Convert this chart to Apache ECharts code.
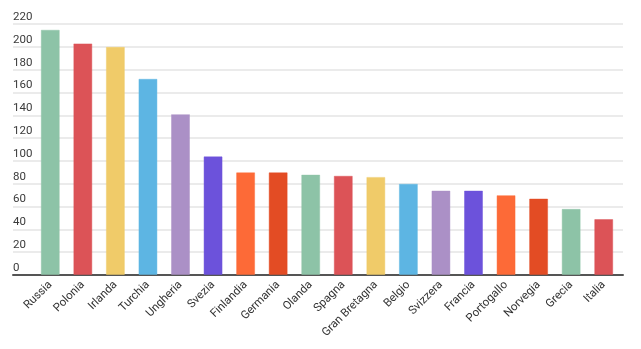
<!DOCTYPE html>
<html>
<head>
<meta charset="utf-8">
<script src="https://cdn.jsdelivr.net/npm/echarts@6/dist/echarts.min.js"></script>
<style>
  html, body { margin: 0; padding: 0; background: #fff; }
  #chart { width: 641px; height: 349px; }
</style>
</head>
<body>
<div id="chart"></div>
<script>
// Countries and their values
const countries = ['Russia', 'Polonia', 'Irlanda', 'Turchia', 'Ungheria', 'Svezia', 'Finlandia',
  'Germania', 'Olanda', 'Spagna', 'Gran Bretagna', 'Belgio', 'Svizzera', 'Francia',
  'Portogallo', 'Norvegia', 'Grecia', 'Italia'];
const values = [215, 203, 200, 172, 141, 104, 90, 90, 88, 87, 86, 80, 74, 74, 70, 67, 58, 49];

// Bar colour cycle
const palette = ['#8dc3a7', '#dc5357', '#f0cb69', '#5db5e3', '#ab90c6', '#6c52db', '#fd6a37', '#e34c24'];

// Y axis range and step
const yMin = 0;
const yMax = 220;
const yStep = 20;

const chart = echarts.init(document.getElementById('chart'), null, { renderer: 'canvas' });

const fontFamily = 'Roboto, "Noto Sans", Arial, sans-serif';

chart.setOption({
  animation: false,
  backgroundColor: '#ffffff',
  grid: [
    // full-width grid carrying the gridlines, value labels and baseline
    { left: 13, right: 18, top: 24, bottom: 74 },
    // narrower grid where the bars sit
    { left: 34, right: 21, top: 24, bottom: 74 }
  ],
  xAxis: [
    {
      gridIndex: 0, type: 'value', min: 0, max: 1,
      axisLine: { show: true, onZero: false, lineStyle: { color: '#555555', width: 2 } },
      axisTick: { show: false }, axisLabel: { show: false }, splitLine: { show: false }
    },
    {
      gridIndex: 1, type: 'category', data: countries,
      axisLine: { show: false }, axisTick: { show: false },
      axisLabel: {
        interval: 0, rotate: 45, margin: 8,
        color: '#333333', fontSize: 11.5, fontFamily: fontFamily
      }
    }
  ],
  yAxis: [
    {
      gridIndex: 0, type: 'value', min: yMin, max: yMax, interval: yStep,
      axisLine: { show: false }, axisTick: { show: false },
      axisLabel: {
        inside: true, margin: 0, align: 'left', verticalAlign: 'bottom',
        padding: [0, 0, 1, 0],
        color: '#3a3a3a', fontSize: 11.5, fontFamily: fontFamily
      },
      splitLine: { lineStyle: { color: '#e4e4e4', width: 1.5 } }
    },
    {
      gridIndex: 1, type: 'value', min: yMin, max: yMax, interval: yStep,
      axisLine: { show: false }, axisTick: { show: false },
      axisLabel: { show: false }, splitLine: { show: false }
    }
  ],
  series: [{
    type: 'bar',
    xAxisIndex: 1,
    yAxisIndex: 1,
    barWidth: 19,
    z: 3,
    data: values.map((v, i) => ({
      value: v,
      itemStyle: {
        color: palette[i % palette.length],
        borderColor: echarts.color.modifyAlpha(palette[i % palette.length], 0.45),
        borderWidth: 1
      }
    }))
  }]
});
</script>
</body>
</html>
